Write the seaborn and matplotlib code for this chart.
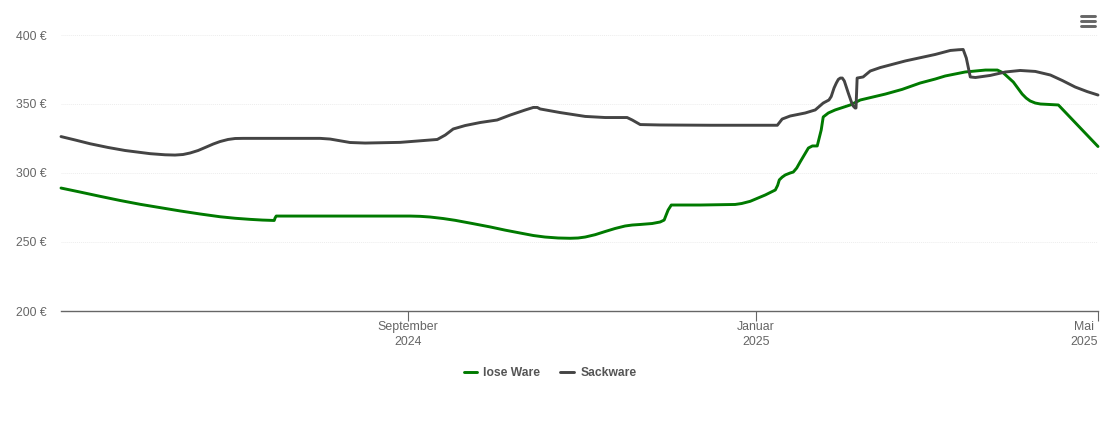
import pandas as pd
import matplotlib
matplotlib.use("Agg")
import matplotlib.pyplot as plt
from matplotlib.lines import Line2D
import seaborn as sns

# days counted from 2024-05-01, values in euro
START = pd.Timestamp("2024-05-01")

lose_days = [1.2, 7.9, 14.9, 21.9, 29, 36, 43, 50, 57, 62.3, 67.6, 71.8, 76, 76.3, 76.7, 85, 102.6, 123.7,
             127.2, 130.7, 135.3, 139.5, 145.5, 151.8, 157, 162.3, 166.9, 171, 175.6, 179.8, 182.6, 185.1,
             188.6, 192.1, 195.6, 199.1, 201.6, 204.4, 208.6, 211.4, 212.8, 213.5, 214.2, 215.3, 225.5,
             237.7, 240, 243, 248.3, 251.8, 252.6, 253.2, 254.2, 255.3, 257, 258.1, 259.3, 260.5, 263.4,
             264.8, 266.5, 267.9, 268.6, 270.4, 272.8, 278.1, 281.6, 290.4, 296.3, 302.6, 307.9, 311.4,
             318.4, 325.5, 329.7, 331.8, 335.3, 338.4, 339.8, 341.2, 343, 344.8, 351.1, 365]
lose_vals = [289.1, 286.2, 283.1, 280.1, 277.3, 274.9, 272.5, 270.3, 268.3, 267.2, 266.4, 265.9, 265.6, 267.4,
             268.8, 268.8, 268.8, 268.8, 268.6, 268.1, 267, 265.7, 263.4, 260.9, 258.6, 256.5, 254.7, 253.6,
             252.9, 252.7, 252.9, 253.6, 255.3, 257.6, 259.8, 261.6, 262.3, 262.7, 263.4, 264.5, 265.9, 269.6,
             273.2, 276.8, 276.8, 277.2, 277.9, 279.5, 284.1, 287.7, 291, 295, 297, 298.6, 300, 300.7, 303.6,
             308, 318.1, 319.6, 319.6, 331.2, 340.6, 343.5, 345.7, 349.3, 352.9, 357.2, 360.6, 365.2, 368.1,
             370.3, 373.2, 374.6, 374.6, 372.5, 365.9, 357.2, 354.3, 352.2, 350.7, 350, 349.3, 319.2]

sack_days = [1.2, 6.2, 11.4, 17.7, 23.7, 32.5, 37.7, 41.2, 44, 46.5, 49.3, 51.8, 54.6, 57, 59.8, 62.3, 65.1,
             67.6, 92.1, 95.6, 102.6, 107.9, 120.2, 133.2, 136, 138.8, 143, 148.3, 154.2, 158.8, 164.1,
             166.9, 168.3, 169.3, 176.3, 185.1, 192.1, 199.8, 201.6, 204.4, 211.4, 229, 252.5, 254.2, 257,
             262.3, 265.8, 268.6, 270.6, 271.4, 272.4, 273.2, 273.9, 274.6, 275.3, 276, 276.7, 277.4, 278.5,
             279.1, 279.8, 280.1, 280.5, 282.6, 285.1, 288.6, 297.4, 307.9, 313.2, 316, 317.7, 318.8, 320.2,
             322, 327.2, 332.5, 337.7, 343, 348.3, 352.5, 357, 361.2, 365]
sack_vals = [326.4, 323.9, 321.2, 318.5, 316.3, 314, 313.2, 313, 313.4, 314.5, 316.3, 318.5, 321, 322.8, 324.3,
             325, 325.1, 325.1, 325.1, 324.6, 322.1, 321.7, 322.2, 324.3, 327.5, 331.9, 334.4, 336.6, 338.4,
             342, 345.7, 347.5, 347.5, 346.4, 343.8, 341, 340.2, 340.2, 338.4, 335.1, 334.8, 334.6, 334.6,
             339.1, 341.3, 343.5, 345.7, 350.7, 352.9, 355.4, 361.6, 365.2, 367.8, 368.8, 368.8, 366.7, 362.3,
             357.9, 351.4, 348.6, 347.1, 347.1, 368.8, 369.6, 373.9, 376.4, 381.2, 385.9, 388.8, 389.3, 389.5,
             383.3, 369.6, 369.2, 370.7, 373.2, 374.3, 373.6, 371, 367, 362.3, 359, 356.5]

y_ticks = [200, 250, 300, 350, 400]
x_tick_dates = ["2024-09-01", "2025-01-01", "2025-05-01"]
x_tick_labels = ["September\n2024", "Januar\n2025", "Mai\n2025"]

df = pd.concat([
    pd.DataFrame({"day": lose_days, "preis": lose_vals, "art": "lose Ware"}),
    pd.DataFrame({"day": sack_days, "preis": sack_vals, "art": "Sackware"}),
])
df["datum"] = START + pd.to_timedelta(df["day"], unit="D")

sns.set_theme(style="white")
plt.rcParams["font.family"] = ["Liberation Sans", "DejaVu Sans"]

W, H = 1110, 422
fig = plt.figure(figsize=(W / 100, H / 100), dpi=100)
ax = fig.add_axes([61 / W, 1 - 311 / H, (1098 - 61) / W, (311 - 35) / H])

sns.lineplot(data=df, x="datum", y="preis", hue="art", hue_order=["lose Ware", "Sackware"],
             palette=["#007a00", "#444444"], estimator=None, errorbar=None, sort=False,
             linewidth=2.1, ax=ax, legend=False, solid_joinstyle="round", clip_on=False)

ax.set_xlim(START + pd.Timedelta(days=1.2), pd.Timestamp("2025-05-01"))
ax.set_ylim(200, 400)
ax.set_xlabel("")
ax.set_ylabel("")

ax.set_yticks(y_ticks)
ax.set_yticklabels([f"{v} €" for v in y_ticks])
ax.set_xticks(pd.to_datetime(x_tick_dates))
ax.set_xticklabels(x_tick_labels, multialignment="center", linespacing=1.3)
ax.get_xticklabels()[-1].set_ha("right")

ax.tick_params(axis="y", length=0, pad=10.5, labelsize=8.8, labelcolor="#666666")
ax.tick_params(axis="x", bottom=True, length=7.2, width=0.8, color="#666666", pad=0, labelsize=8.9,
               labelcolor="#666666")

ax.grid(axis="y", color="#ededed", linewidth=0.7, linestyle=(0, (1, 1)))
ax.set_axisbelow(True)
sns.despine(ax=ax, left=True)
ax.spines["bottom"].set_color("#666666")
ax.spines["bottom"].set_linewidth(1.0)

# legend below the axis
handles = [Line2D([], [], color="#007a00", linewidth=2.1), Line2D([], [], color="#444444", linewidth=2.1)]
leg = fig.legend(handles, ["lose Ware", "Sackware"], ncol=2, frameon=False, loc="center",
                 bbox_to_anchor=(550 / W, 1 - 373 / H), handlelength=1.15, handletextpad=0.5,
                 columnspacing=1.65, prop={"size": 8.7, "weight": "bold"}, labelcolor="#555555")

# menu icon top right
for py in [16, 21, 26]:
    fig.add_artist(Line2D([1081 / W, 1095 / W], [1 - py / H, 1 - py / H], color="#666666",
                          linewidth=2.1, solid_capstyle="round"))

fig.savefig("out.png", dpi=100, facecolor="white")
